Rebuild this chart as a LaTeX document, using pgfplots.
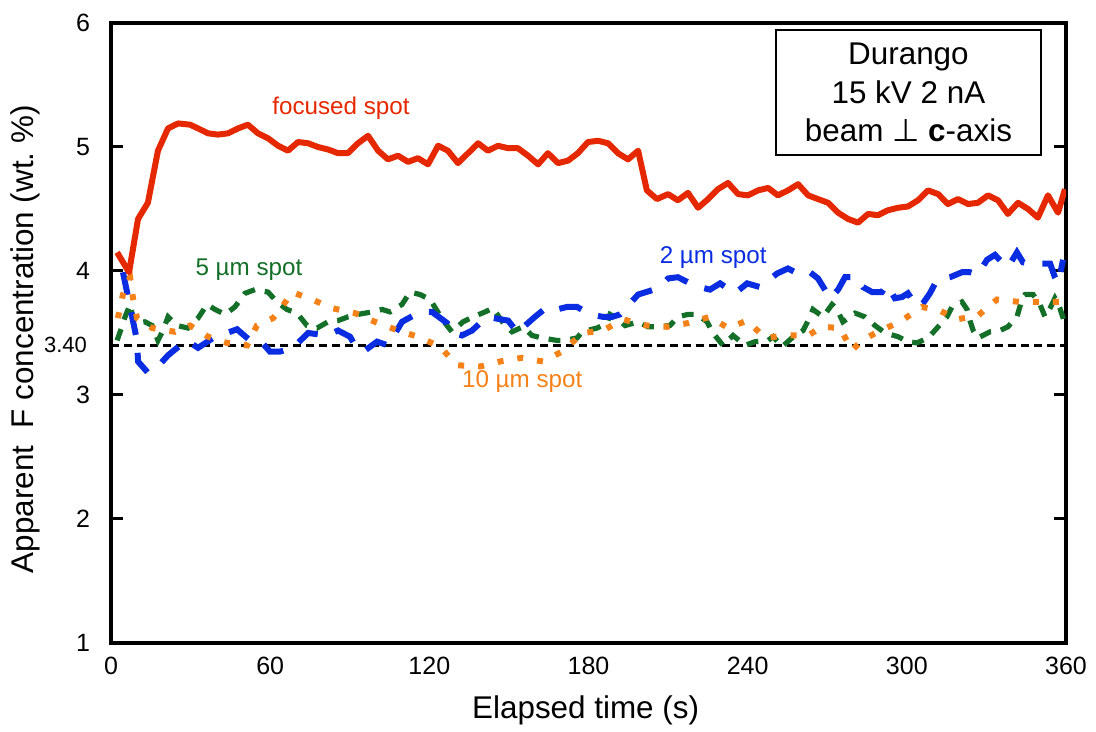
\documentclass[border=0pt]{standalone}
\usepackage{fontspec}
\setmainfont{Liberation Sans}
\newfontfamily\djv{DejaVu Sans}
\usepackage{pgfplots}
\pgfplotsset{compat=1.18}
\definecolor{cred}{RGB}{230,40,0}
\definecolor{cblue}{RGB}{10,45,225}
\definecolor{cgreen}{RGB}{20,112,40}
\definecolor{corange}{RGB}{245,130,25}
\begin{document}
\begin{tikzpicture}
\begin{axis}[
  name=ax,
  scale only axis,
  width=477.5pt, height=310pt,
  xmin=0, xmax=360, ymin=1, ymax=6,
  xtick={0,60,...,360},
  ytick={1,2,3,4,5,6},
  extra y ticks={3.4},
  extra y tick labels={3.40},
  extra y tick style={major tick length=0pt, yticklabel style={font=\fontsize{11}{13}\selectfont, xshift=-1.5pt}},
  tick align=inside,
  major tick length=6pt,
  major x tick style={draw=none},
  every tick/.style={black, line width=1.5pt},
  axis line style={line width=2pt},
  /pgf/number format/assume math mode=true,
  tick label style={font=\fontsize{12.5}{15}\selectfont},
  yticklabel style={xshift=-7pt},
  xticklabel style={yshift=-3.5pt},
  xlabel={Elapsed time (s)},
  ylabel={Apparent\ \ F concentration (wt.\ \%)},
  label style={font=\fontsize{15.7}{18}\selectfont},
  xlabel style={at={(axis description cs:0.497,-0.108)}, anchor=center},
  ylabel style={at={(axis description cs:-0.09,0.49)}, anchor=center},
]
% reference line
\addplot[black, line width=1.8pt, dash pattern=on 4pt off 2.5pt] coordinates {(0,3.4) (360,3.4)};
% 5 um spot
\addplot[cgreen, line width=2.6pt, dash pattern=on 6pt off 5pt] coordinates {
(2.3,3.44) (4.1,3.55) (5.3,3.63) (7.2,3.73) (7.9,3.66) (9,3.58) (12.8,3.59) (15.5,3.56)
(17.7,3.44) (19.6,3.52) (21.5,3.63) (24.9,3.56) (29,3.54) (32.8,3.62) (36.2,3.73) (39.2,3.69)
(43,3.65) (46.7,3.71) (50.5,3.82) (54.3,3.85) (59.2,3.83) (62.6,3.75) (66.3,3.69) (70.1,3.66)
(73.9,3.56) (77.7,3.54) (81.8,3.59) (85.6,3.60) (89.3,3.63) (93.1,3.65) (98.4,3.67) (102.2,3.69)
(105.2,3.67) (109.7,3.73) (112.7,3.83) (116.5,3.81) (120.3,3.77) (125.2,3.60) (128.5,3.51) (132.7,3.59)
(136.5,3.63) (141,3.67) (144,3.70) (148.5,3.56) (151.2,3.51) (155.3,3.55) (158.7,3.48) (162.5,3.46)
(168.1,3.44) (171.1,3.44) (175.7,3.46) (177.6,3.51) (183.2,3.54) (187,3.58) (188.1,3.65) (190.7,3.62)
(193.8,3.56) (198.7,3.59) (202.4,3.55) (206.2,3.55) (210.7,3.56) (213.7,3.63) (217.5,3.65) (220.9,3.65)
(224.7,3.59) (226.9,3.50) (230.7,3.40) (234.5,3.48) (239,3.40) (242.8,3.43) (247.7,3.44) (249.6,3.47)
(253,3.39) (256.7,3.46) (260.9,3.52) (262.8,3.60) (264.6,3.69) (268.4,3.63) (271.8,3.73) (273.7,3.69)
(275.9,3.59) (280.5,3.66) (284.2,3.63) (288,3.56) (291.8,3.50) (296.7,3.47) (300.4,3.43) (303.8,3.42)
(308,3.46) (311.8,3.55) (315.1,3.63) (317,3.71) (320.8,3.75) (322.7,3.69) (323.8,3.60) (325,3.52)
(326.8,3.46) (331.4,3.51) (335.1,3.52) (338.1,3.55) (341.5,3.63) (343.4,3.77) (344.6,3.81) (347.6,3.81)
(350.2,3.73) (352.1,3.63) (354,3.70) (355.8,3.78) (357.7,3.70) (358.9,3.62) (359.6,3.55)
};
% 2 um spot
\addplot[cblue, line width=3pt, dash pattern=on 11.5pt off 9pt] coordinates {
(4.5,3.99) (9.8,3.44) (10.2,3.27) (13.9,3.18) (17.7,3.23) (21.5,3.32) (24.9,3.38) (28.6,3.44)
(32.8,3.38) (38.5,3.46) (47.5,3.53) (52.4,3.44) (56.2,3.44) (59.9,3.35) (63.7,3.35) (68.6,3.38)
(74.3,3.50) (81.4,3.48) (85.6,3.52) (90.1,3.47) (93.1,3.36) (95.8,3.36) (100.3,3.43) (104.4,3.40)
(109.7,3.59) (116.5,3.67) (121,3.67) (126.7,3.58) (127.8,3.51) (132.3,3.48) (136.1,3.52) (141.7,3.63)
(149.7,3.60) (153.4,3.50) (156.1,3.56) (159.8,3.63) (164.4,3.71) (168.1,3.69) (171.9,3.71) (175.7,3.71)
(180.6,3.65) (185.5,3.63) (188.9,3.63) (191.9,3.65) (198.7,3.81) (206.2,3.86) (210,3.94) (213.7,3.95)
(218.3,3.90) (222,3.87) (225.8,3.85) (229.6,3.90) (235.2,3.82) (239.8,3.90) (244.7,3.87) (251.1,3.98)
(255.2,4.02) (259.7,3.97) (263.5,3.99) (266.5,3.94) (271.1,3.78) (274.1,3.85) (276.7,3.95) (281.2,3.95)
(283.5,3.87) (286.9,3.83) (290.6,3.83) (292.5,3.89) (295.5,3.78) (298.2,3.79) (300.4,3.82) (303.8,3.71)
(306.1,3.74) (308.7,3.82) (311.4,3.93) (316.3,3.95) (320.8,3.99) (323.8,3.99) (326.8,3.97) (330.2,4.09)
(333.2,4.13) (335.9,4.07) (338.1,4.03) (341.5,4.15) (343.8,4.07) (346.4,4.06) (350.2,4.06) (354,4.06)
(355.8,3.95) (357,3.90) (358.9,4.09)
};
% 10 um spot
\addplot[corange, line width=3pt, dash pattern=on 3pt off 7pt] coordinates {
(2.6,3.62) (4.5,3.81) (7.2,3.95) (8.3,3.78) (9.8,3.62) (15.5,3.54) (24.1,3.51) (29.8,3.56)
(36.6,3.47) (43.7,3.42) (51.3,3.40) (55,3.56) (61.1,3.62) (64.5,3.71) (68.2,3.83) (75.8,3.77)
(83.3,3.70) (92,3.66) (99.5,3.59) (108.2,3.52) (115.7,3.47) (124,3.39) (130.4,3.24) (139.1,3.23)
(146.6,3.27) (154.9,3.30) (162.9,3.27) (170,3.35) (177.9,3.50) (185.5,3.52) (193,3.61) (202,3.56)
(209.6,3.55) (217.5,3.58) (225.8,3.63) (232.6,3.54) (239.8,3.60) (246.5,3.46) (254.1,3.48) (262.8,3.48)
(268,3.55) (274.8,3.54) (279.3,3.36) (283.1,3.44) (289.1,3.51) (297.4,3.59) (305.7,3.71) (312.5,3.68)
(318.9,3.61) (326.8,3.64) (334,3.77) (342.7,3.75) (349.4,3.75) (357.7,3.75)
};
% focused spot
\addplot[cred, line width=3pt, line join=round] coordinates {
(2.3,4.15) (6.8,3.99) (10.2,4.42) (13.9,4.55) (17.7,4.97) (21.5,5.15) (25.3,5.19) (29.8,5.18)
(32.8,5.15) (36.6,5.11) (40.3,5.10) (44.1,5.11) (47.9,5.15) (51.6,5.18) (55.4,5.11) (59.2,5.07)
(63,5.01) (66.7,4.97) (70.5,5.04) (74.3,5.03) (78,5.00) (81.8,4.98) (85.6,4.95) (89.3,4.95)
(93.1,5.03) (96.9,5.09) (100.7,4.97) (104.4,4.90) (108.2,4.93) (112,4.88) (115.7,4.91) (119.5,4.86)
(123.3,5.01) (127,4.97) (130.8,4.87) (134.6,4.95) (138.4,5.03) (142.1,4.97) (145.9,5.01) (149.7,4.99)
(153.4,4.99) (157.2,4.93) (161,4.86) (164.7,4.95) (168.5,4.87) (172.3,4.89) (176,4.95) (179.8,5.04)
(183.6,5.05) (187.4,5.03) (191.1,4.95) (194.9,4.90) (198.7,4.97) (202,4.65) (205.8,4.58) (210,4.62)
(213.7,4.57) (217.5,4.63) (221.3,4.51) (225.1,4.58) (228.8,4.66) (232.6,4.71) (236.4,4.62) (240.1,4.61)
(243.9,4.65) (247.7,4.67) (251.4,4.61) (255.2,4.65) (259,4.70) (262.8,4.61) (266.5,4.58) (270.3,4.55)
(274.1,4.47) (277.8,4.42) (281.6,4.39) (285.4,4.46) (289.1,4.45) (292.9,4.49) (296.7,4.51) (300.4,4.52)
(304.2,4.57) (308,4.65) (311.8,4.62) (315.5,4.54) (319.3,4.58) (323.1,4.54) (326.8,4.55) (330.6,4.61)
(334.4,4.57) (338.1,4.46) (341.9,4.55) (345.7,4.50) (349.4,4.43) (353.2,4.61) (357,4.47) (359.6,4.66)
};
\node[cred, font=\fontsize{12.1}{14}\selectfont] at (axis cs:86.7,5.31) {focused spot};
\node[cgreen, font=\fontsize{12.1}{14}\selectfont] at (axis cs:52,4.01) {5 µm spot};
\node[cblue, font=\fontsize{12.1}{14}\selectfont] at (axis cs:227,4.11) {2 µm spot};
\node[corange, font=\fontsize{12.1}{14}\selectfont] at (axis cs:155,3.11) {10 µm spot};
\node[draw, fill=white, line width=1pt, minimum width=132.5pt, minimum height=62.5pt, inner sep=0pt, align=center, font=\fontsize{15.7}{19.3}\selectfont] at (axis cs:300.6,5.44) {Durango\\15 kV 2 nA\\beam {\djv ⊥} \textbf{c}-axis};
\end{axis}
\path ([shift={(-55.5pt,-44pt)}]ax.south west) rectangle ([shift={(15pt,11.5pt)}]ax.north east);
\end{tikzpicture}
\end{document}
